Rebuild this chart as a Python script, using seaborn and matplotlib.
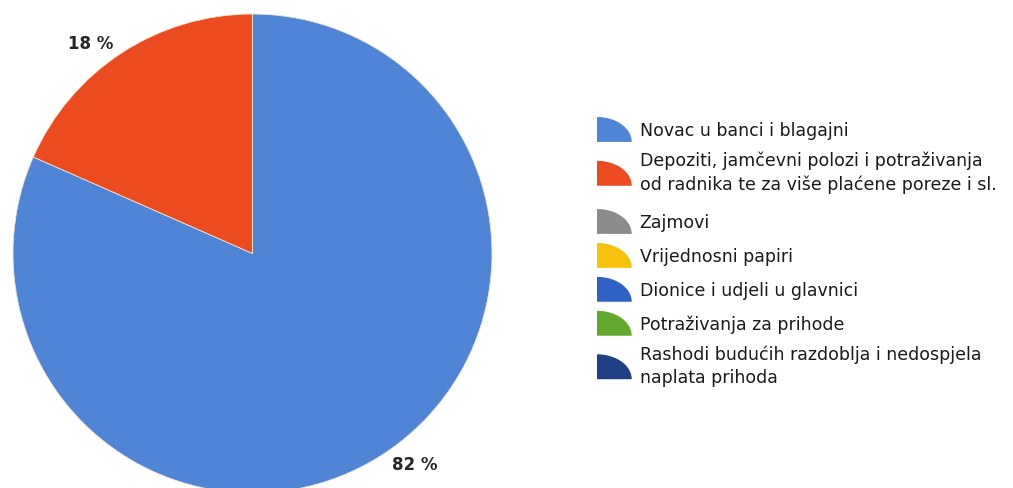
import numpy as np
import matplotlib
matplotlib.use("Agg")
import matplotlib.pyplot as plt
import seaborn as sns
from matplotlib.patches import Polygon
from matplotlib.legend_handler import HandlerPatch

categories = [
    "Novac u banci i blagajni",
    "Depoziti, jamčevni polozi i potraživanja\nod radnika te za više plaćene poreze i sl.",
    "Zajmovi",
    "Vrijednosni papiri",
    "Dionice i udjeli u glavnici",
    "Potraživanja za prihode",
    "Rashodi budućih razdoblja i nedospjela\nnaplata prihoda",
]
shares = [81.6, 18.4, 0, 0, 0, 0, 0]
colors = ["#4f84d6", "#ec4a1f", "#8e8c8a", "#f6c20c", "#2f62c4", "#62a82c", "#1f3f86"]


class QuarterHandler(HandlerPatch):
    # legend key drawn as a quarter disc, like the original
    def create_artists(self, legend, orig_handle, xdescent, ydescent,
                       width, height, fontsize, trans):
        t = np.linspace(0, np.pi / 2, 30)
        x0, y0 = -xdescent, -ydescent
        pts = [(x0, y0)] + [(x0 + width * np.sin(a), y0 + height * np.cos(a)) for a in t]
        p = Polygon(pts, closed=True, facecolor=orig_handle.get_facecolor(),
                    edgecolor="none", transform=trans)
        return [p]


def make_legend(fig, handles, labels, top_px):
    leg = fig.legend(
        handles, labels, loc="upper left",
        bbox_to_anchor=(597 / 1013, 1 - top_px / 489),
        frameon=False, fontsize=12.5, borderpad=0, borderaxespad=0,
        handlelength=2.0, handleheight=1.83, handletextpad=0.45,
        labelspacing=0.52,
        handler_map={h: QuarterHandler() for h in handles},
    )
    for t in leg.get_texts():
        t.set_linespacing(1.34)
        t.set_color("#1a1a1a")
    return leg


def main():
    sns.set_theme(style="white")
    plt.rcParams["font.family"] = ["DejaVu Sans"]

    fig = plt.figure(figsize=(10.13, 4.89), dpi=100)
    fig.patch.set_facecolor("white")
    ax = fig.add_axes([13 / 1013, -5 / 489, 479 / 1013, 479 / 489])

    wedges, texts, autotexts = ax.pie(
        shares, colors=colors, startangle=90, counterclock=False,
        autopct=lambda p: f"{p:.0f} %" if p > 0.5 else "",
        pctdistance=1.12, radius=1,
        wedgeprops=dict(edgecolor="#f3e6d0", linewidth=0.6),
        textprops=dict(fontsize=12, color="#262626", fontweight="bold"),
    )
    # percent labels sit a little ahead of the slice middle in the original
    for w, t in zip(wedges, autotexts):
        ang = np.deg2rad((w.theta1 + w.theta2) / 2 + 4.5)
        t.set_position((1.11 * np.cos(ang), 1.11 * np.sin(ang)))
    ax.set_xlim(-1, 1)
    ax.set_ylim(-1, 1)
    ax.set_aspect("equal")
    ax.axis("off")

    # two legend blocks: the original leaves extra room after the long entry
    # (fig.legend keeps both, no add_artist needed)
    make_legend(fig, wedges[:2], categories[:2], 118)
    make_legend(fig, wedges[2:], categories[2:], 210)

    fig.savefig("out.png", dpi=100, facecolor="white")
    plt.close(fig)


if __name__ == "__main__":
    main()
